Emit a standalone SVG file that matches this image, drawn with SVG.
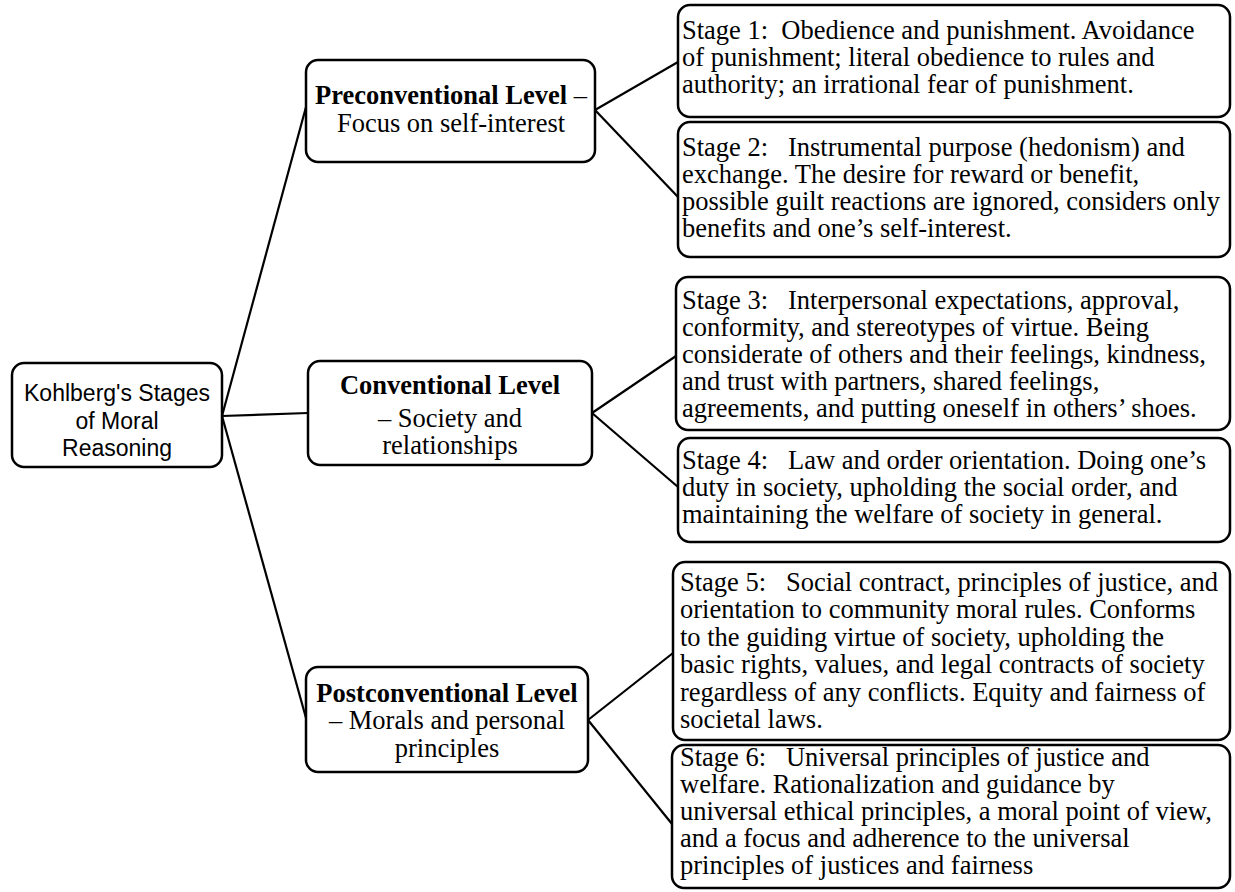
<svg xmlns="http://www.w3.org/2000/svg" width="1235" height="892" viewBox="0 0 1235 892" xml:space="preserve">
<style>
.box{fill:#fff;stroke:#000;stroke-width:2.5}
.ln{stroke:#000;stroke-width:2.2;fill:none}
.s{font-family:"Liberation Serif","Times New Roman",serif;font-size:26.5px;fill:#000;white-space:pre}
.lv{font-family:"Liberation Serif","Times New Roman",serif;font-size:26.5px;fill:#000;text-anchor:middle;white-space:pre}
.b{font-weight:bold}
.r{font-family:"Liberation Sans",Arial,sans-serif;font-size:23px;fill:#000;text-anchor:middle}
</style>
<rect width="1235" height="892" fill="#fff"/>
<g id="connectors">
<line class="ln" x1="222" y1="416" x2="306" y2="107"/>
<line class="ln" x1="222" y1="416" x2="308" y2="413"/>
<line class="ln" x1="222" y1="416" x2="306" y2="718"/>
<line class="ln" x1="595" y1="110" x2="678" y2="62"/>
<line class="ln" x1="595" y1="110" x2="678" y2="197"/>
<line class="ln" x1="592" y1="413" x2="676" y2="356"/>
<line class="ln" x1="592" y1="413" x2="678" y2="487"/>
<line class="ln" x1="588" y1="720" x2="673" y2="653"/>
<line class="ln" x1="588" y1="720" x2="672" y2="824"/>
</g>
<g id="root">
<rect class="box" x="12" y="363" width="210" height="104" rx="12"/>
<text class="r" x="117" y="401">Kohlberg's Stages</text>
<text class="r" x="117" y="429">of Moral</text>
<text class="r" x="117" y="456">Reasoning</text>
</g>
<g id="preconventional">
<rect class="box" x="306" y="60" width="289" height="102" rx="12"/>
<text class="lv" x="451" y="104"><tspan class="b">Preconventional Level</tspan> –</text>
<text class="lv" x="451" y="132">Focus on self-interest</text>
</g>
<g id="conventional">
<rect class="box" x="308" y="361" width="284" height="104" rx="12"/>
<text class="lv b" x="450" y="394">Conventional Level</text>
<text class="lv" x="450" y="427">– Society and</text>
<text class="lv" x="450" y="454">relationships</text>
</g>
<g id="postconventional">
<rect class="box" x="306" y="667" width="282" height="105" rx="12"/>
<text class="lv b" x="447" y="702">Postconventional Level</text>
<text class="lv" x="447" y="729">– Morals and personal</text>
<text class="lv" x="447" y="757">principles</text>
</g>
<g id="stage1">
<rect class="box" x="678" y="5" width="552" height="112" rx="12"/>
<text class="s" x="682" y="39">Stage 1:  Obedience and punishment. Avoidance</text>
<text class="s" x="682" y="66">of punishment; literal obedience to rules and</text>
<text class="s" x="682" y="93">authority; an irrational fear of punishment.</text>
</g>
<g id="stage2">
<rect class="box" x="678" y="122" width="552" height="135" rx="12"/>
<text class="s" x="682" y="156">Stage 2:   Instrumental purpose (hedonism) and</text>
<text class="s" x="682" y="183">exchange. The desire for reward or benefit,</text>
<text class="s" x="682" y="210">possible guilt reactions are ignored, considers only</text>
<text class="s" x="682" y="237">benefits and one’s self-interest.</text>
</g>
<g id="stage3">
<rect class="box" x="676" y="277" width="554" height="153" rx="12"/>
<text class="s" x="682" y="309">Stage 3:   Interpersonal expectations, approval,</text>
<text class="s" x="682" y="336">conformity, and stereotypes of virtue. Being</text>
<text class="s" x="682" y="363">considerate of others and their feelings, kindness,</text>
<text class="s" x="682" y="390">and trust with partners, shared feelings,</text>
<text class="s" x="682" y="417">agreements, and putting oneself in others’ shoes.</text>
</g>
<g id="stage4">
<rect class="box" x="678" y="438" width="552" height="104" rx="12"/>
<text class="s" x="682" y="469">Stage 4:   Law and order orientation. Doing one’s</text>
<text class="s" x="682" y="496">duty in society, upholding the social order, and</text>
<text class="s" x="682" y="523">maintaining the welfare of society in general.</text>
</g>
<g id="stage5">
<rect class="box" x="673" y="562" width="557" height="178" rx="12"/>
<text class="s" x="680" y="591">Stage 5:   Social contract, principles of justice, and</text>
<text class="s" x="680" y="618">orientation to community moral rules. Conforms</text>
<text class="s" x="680" y="646">to the guiding virtue of society, upholding the</text>
<text class="s" x="680" y="673">basic rights, values, and legal contracts of society</text>
<text class="s" x="680" y="701">regardless of any conflicts. Equity and fairness of</text>
<text class="s" x="680" y="728">societal laws.</text>
</g>
<g id="stage6">
<rect class="box" x="672" y="745" width="558" height="143" rx="12"/>
<text class="s" x="680" y="766">Stage 6:   Universal principles of justice and</text>
<text class="s" x="680" y="793">welfare. Rationalization and guidance by</text>
<text class="s" x="680" y="820">universal ethical principles, a moral point of view,</text>
<text class="s" x="680" y="847">and a focus and adherence to the universal</text>
<text class="s" x="680" y="874">principles of justices and fairness</text>
</g>
</svg>
